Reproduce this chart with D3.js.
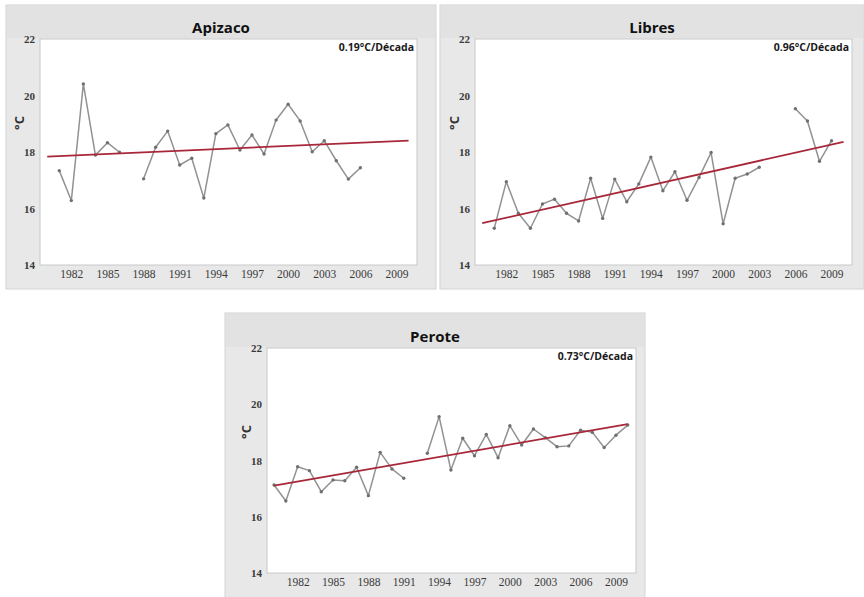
<!DOCTYPE html>
<html>
<head>
<meta charset="utf-8">
<script src="https://cdn.jsdelivr.net/npm/d3@7"></script>
<style>
  body { margin: 0; background: #ffffff; }
  svg { display: block; }
</style>
</head>
<body>
<svg id="chart" width="864" height="597"></svg>
<script>
// Annual mean temperature (°C) per station, 1980–2010; null = no record
const years = [1980, 1981, 1982, 1983, 1984, 1985, 1986, 1987, 1988, 1989,
               1990, 1991, 1992, 1993, 1994, 1995, 1996, 1997, 1998, 1999,
               2000, 2001, 2002, 2003, 2004, 2005, 2006, 2007, 2008, 2009, 2010];

const apizaco = [null, 17.34, 16.28, 20.41, 17.89, 18.33, 17.99, null, 17.05, 18.17,
                 18.74, 17.54, 17.78, 16.37, 18.65, 18.96, 18.07, 18.60, 17.93, 19.13,
                 19.69, 19.10, 18.01, 18.40, 17.69, 17.04, 17.44, null, null, null, null];

const libres = [null, 15.30, 16.95, 15.83, 15.30, 16.16, 16.33, 15.83, 15.56, 17.07,
                15.65, 17.04, 16.24, 16.87, 17.82, 16.63, 17.30, 16.29, 17.10, 17.98,
                15.46, 17.07, 17.22, 17.46, null, null, 19.53, 19.10, 17.67, 18.40, null];

const perote = [17.13, 16.56, 17.78, 17.64, 16.89, 17.31, 17.28, 17.76, 16.75, 18.29,
                17.70, 17.37, null, 18.26, 19.56, 17.66, 18.79, 18.17, 18.93, 18.10,
                19.24, 18.55, 19.12, 18.81, 18.49, 18.52, 19.08, 19.00, 18.46, 18.90, 19.26];

const stations = ["Apizaco", "Libres", "Perote"];
const series = [apizaco, libres, perote];

// Linear trend: rate per decade and fitted value at the mid year (1995)
const trendPerDecade = [0.19, 0.96, 0.73];
const trendAt1995 = [18.12, 16.92, 18.20];
const trendLabels = ["0.19°C/Década", "0.96°C/Década", "0.73°C/Década"];

const yTicks = [14, 16, 18, 20, 22];
const xTicks = [1982, 1985, 1988, 1991, 1994, 1997, 2000, 2003, 2006, 2009];

// Panel frames and plot rectangles
const layout = [
  { panel: [6, 5, 430, 284],   plot: [40, 39, 377, 226] },
  { panel: [440, 5, 424, 284], plot: [475, 39, 377, 226] },
  { panel: [225, 313, 420, 290], plot: [267, 348, 369, 225] }
];

const svg = d3.select("#chart");
const tickFont = "'Liberation Serif', 'DejaVu Serif', serif";
const textFont = "'Open Sans', 'Noto Sans', sans-serif";

stations.forEach((name, i) => {
  const L = layout[i];
  const [px, py, pw, ph] = L.panel;
  const [x0, y0, w, h] = L.plot;

  const g = svg.append("g");

  // panel background with a slightly darker title band
  g.append("rect")
    .attr("x", px).attr("y", py).attr("width", pw).attr("height", ph)
    .attr("fill", "#e8e8e8").attr("stroke", "#d4d4d4").attr("stroke-width", 1);
  g.append("rect")
    .attr("x", px + 1).attr("y", py + 1).attr("width", pw - 2).attr("height", y0 - py - 2)
    .attr("fill", "#e2e2e2");

  // plot area
  g.append("rect")
    .attr("x", x0).attr("y", y0).attr("width", w).attr("height", h)
    .attr("fill", "#ffffff").attr("stroke", "#c8c8c8").attr("stroke-width", 1);

  const x = d3.scaleLinear().domain([1979.4, 2010.7]).range([x0, x0 + w]);
  const y = d3.scaleLinear().domain([14, 22]).range([y0 + h, y0]);

  // y axis labels
  const yAxis = d3.axisLeft(y).tickValues(yTicks).tickSize(0).tickPadding(5);
  const ya = g.append("g").attr("transform", `translate(${x0},0)`).call(yAxis);
  ya.select(".domain").remove();
  ya.selectAll("text")
    .attr("font-family", tickFont).attr("font-size", 11).attr("font-weight", "bold")
    .attr("fill", "#3a3a3a");

  // x axis labels
  const xAxis = d3.axisBottom(x).tickValues(xTicks).tickFormat(d3.format("d"))
    .tickSize(0).tickPadding(5);
  const xa = g.append("g").attr("transform", `translate(0,${y0 + h})`).call(xAxis);
  xa.select(".domain").remove();
  xa.selectAll("text")
    .attr("font-family", tickFont).attr("font-size", 11.5)
    .attr("fill", "#3a3a3a");

  // axis title
  g.append("text")
    .attr("transform", `translate(${x0 - 16},${y0 + 84}) rotate(-90)`)
    .attr("text-anchor", "middle")
    .attr("font-family", textFont).attr("font-size", 13).attr("font-weight", "bold")
    .attr("fill", "#333")
    .text("°C");

  // station title
  g.append("text")
    .attr("x", px + pw / 2).attr("y", y0 - 6)
    .attr("text-anchor", "middle")
    .attr("font-family", textFont).attr("font-size", 15).attr("font-weight", "bold")
    .attr("fill", "#111")
    .text(name);

  // trend rate label
  g.append("text")
    .attr("x", x0 + w - 3).attr("y", y0 + 12)
    .attr("text-anchor", "end")
    .attr("font-family", textFont).attr("font-size", 10.5).attr("font-weight", "bold")
    .attr("fill", "#1a1a1a")
    .text(trendLabels[i]);

  const pts = years.map((yr, k) => ({ yr, v: series[i][k] }));

  // observed series
  const line = d3.line()
    .defined(d => d.v !== null)
    .x(d => x(d.yr)).y(d => y(d.v));

  g.append("path")
    .datum(pts)
    .attr("fill", "none").attr("stroke", "#929292").attr("stroke-width", 1.5)
    .attr("stroke-linejoin", "round")
    .attr("d", line);

  g.selectAll("circle.obs")
    .data(pts.filter(d => d.v !== null))
    .join("circle")
    .attr("class", "obs")
    .attr("cx", d => x(d.yr)).attr("cy", d => y(d.v))
    .attr("r", 1.7)
    .attr("fill", "#707070");

  // fitted trend over the full period
  const slope = trendPerDecade[i] / 10;
  const trend = [years[0], years[years.length - 1]]
    .map(yr => ({ yr, v: trendAt1995[i] + slope * (yr - 1995) }));

  g.append("path")
    .datum(trend)
    .attr("fill", "none").attr("stroke", "#a8283a").attr("stroke-width", 1.8)
    .attr("d", d3.line().x(d => x(d.yr)).y(d => y(d.v)));
});
</script>
</body>
</html>
